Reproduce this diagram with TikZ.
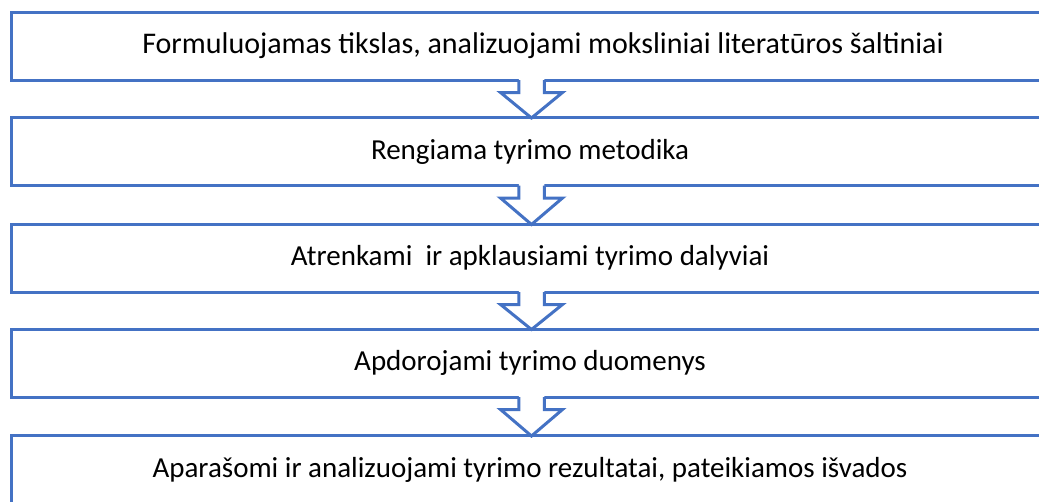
\documentclass[tikz,border=0pt]{standalone}
\usepackage{fontspec}
\setmainfont{Carlito}
\usetikzlibrary{calc}
\definecolor{boxblue}{HTML}{4472C4}
\tikzset{
  stagebox/.style={draw=boxblue, line width=3pt, fill=white, rectangle,
    minimum width=1038pt, minimum height=68pt, inner sep=0pt,
    font=\fontsize{29}{35}\selectfont, text=black},
  bigtext/.style={font=\fontsize{30}{36}\selectfont},
  blockarrow/.style={draw=boxblue, line width=3pt, line join=miter},
}
\newcommand{\flowarrow}[2]{%
  \fill[white] ($(#1.south)+(-11.25,-3)$) -- ($(#1.south)+(-11.25,11)$) -- ($(#1.south)+(-29.5,11)$)
     -- ($(#2.north)+(0,2)$) -- ($(#1.south)+(32.5,11)$) -- ($(#1.south)+(14.25,11)$) -- ($(#1.south)+(14.25,-3)$) -- cycle;
  \draw[blockarrow] ($(#1.south)+(-11.25,-1.5)$) -- ($(#1.south)+(-11.25,11)$) -- ($(#1.south)+(-29.5,11)$)
     -- ($(#2.north)+(1.5,2)$) -- ($(#1.south)+(32.5,11)$) -- ($(#1.south)+(14.25,11)$) -- ($(#1.south)+(14.25,-1.5)$);
}
\begin{document}
\begin{tikzpicture}[x=1pt,y=-1pt]
\useasboundingbox (0,0) rectangle (1039,501);
\clip (0,0) rectangle (1039,501);
\node[stagebox,bigtext] (b1) at (530,46) {\hspace*{26pt}Formuluojamas tikslas, analizuojami moksliniai literatūros šaltiniai};
\node[stagebox] (b2) at (530,151.5) {Rengiama tyrimo metodika};
\node[stagebox] (b3) at (530,258) {Atrenkami\ \ ir apklausiami tyrimo dalyviai};
\node[stagebox] (b4) at (530,363) {Apdorojami tyrimo duomenys};
\node[stagebox] (b5) at (530,469.5) {Aparašomi ir analizuojami tyrimo rezultatai, pateikiamos išvados};
\flowarrow{b1}{b2}
\flowarrow{b2}{b3}
\flowarrow{b3}{b4}
\flowarrow{b4}{b5}
\end{tikzpicture}
\end{document}
